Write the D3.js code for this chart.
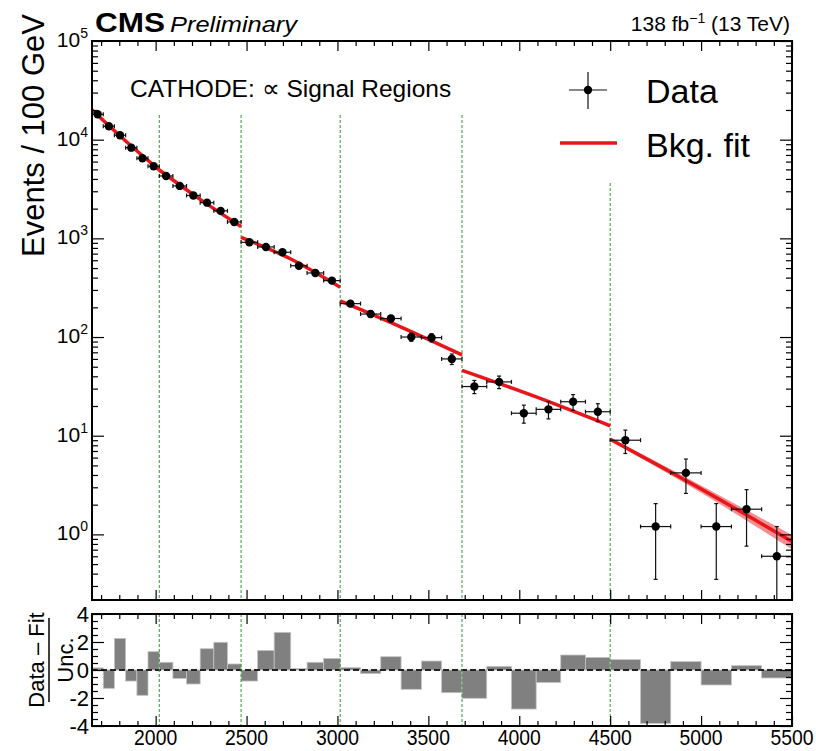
<!DOCTYPE html>
<html>
<head>
<meta charset="utf-8">
<script src="https://cdn.jsdelivr.net/npm/d3@7"></script>
<style>
  body { margin: 0; background: #fff; }
  svg { font-family: "Liberation Sans", Arial, Helvetica, sans-serif; }
</style>
</head>
<body>
<svg id="chart" width="816" height="751"></svg>
<script>
// dijet mass bin edges in GeV (six bins per signal region)
const binEdges = [1650, 1712, 1773, 1835, 1897, 1958, 2020,
                  2095, 2170, 2245, 2320, 2395, 2470,
                  2561, 2652, 2743, 2833, 2924, 3015,
                  3127, 3238, 3350, 3462, 3573, 3685,
                  3821, 3957, 4093, 4228, 4364, 4500,
                  4667, 4833, 5000, 5167, 5333, 5500];

// signal region boundaries (green dashed lines)
const regionEdges = [2020, 2470, 3015, 3685, 4500];

// data: events / 100 GeV
const dataVals = [18070, 13680, 11090, 8300, 6480, 5370,
                  4290, 3400, 2720, 2300, 1900, 1466,
                  912, 818, 723, 528, 446, 373,
                  218, 171, 154, 100, 98.6, 60,
                  31.5, 35.1, 16.9, 18.5, 22.1, 17.5,
                  9.0, 1.2, 4.2, 1.2, 1.8, 0.6];
const dataErr = [171, 149, 134, 116, 102, 93,
                 76, 67, 60, 55, 50, 44,
                 32, 30, 28, 24, 22, 20,
                 14, 12.4, 11.7, 9.5, 9.4, 7.3,
                 4.8, 5.1, 3.5, 3.7, 4.0, 3.6,
                 2.4, 0.85, 1.6, 0.85, 1.04, 0.6];

// (data - fit) / uncertainty
const pulls = [0.15, -1.31, 2.26, -0.79, -1.81, 1.31,
               0.55, -0.6, -1.0, 1.52, 1.98, 0.43,
               -0.79, 1.4, 2.69, 0.1, 0.55, 0.83,
               0.17, -0.26, 0.95, -1.38, 0.64, -1.62,
               -2.02, 0.26, -2.79, -0.9, 1.07, 0.9,
               0.74, -3.81, 0.6, -1.07, 0.31, -0.57];

// background fit per region: mass points, values and relative band half-width
const fitMass = [[1650, 1835, 2020], [2020, 2245, 2470], [2470, 2743, 3015],
                 [3015, 3350, 3685], [3685, 4093, 4500], [4500, 5000, 5500]];
const fitVals = [[20000, 9700, 4930], [4930, 2480, 1315], [1026, 618, 320],
                 [232, 126, 65.9], [45.9, 24.7, 12.6], [9.22, 2.89, 0.845]];
const fitBand = [[0.01, 0.01, 0.01], [0.01, 0.01, 0.015], [0.015, 0.015, 0.02],
                 [0.02, 0.02, 0.025], [0.02, 0.025, 0.035], [0.04, 0.085, 0.165]];

const xMajor = [2000, 2500, 3000, 3500, 4000, 4500, 5000, 5500];
const yDecades = [0, 1, 2, 3, 4, 5];
const pullTicks = [-4, -2, 0, 2, 4];

const svg = d3.select('#chart');
const M = {left: 92, right: 792, top: 41, bottom: 600};
const R = {top: 614, bottom: 726};
const red = '#e8161b';
const green = '#2f9a2f';

const x = d3.scaleLinear().domain([1650, 5500]).range([M.left, M.right]);
const y = d3.scaleLog().domain([Math.pow(10, -0.665), 1e5]).range([M.bottom, M.top]);
const yr = d3.scaleLinear().domain([-4, 4]).range([R.bottom, R.top]);

const xMinor = d3.range(1700, 5500, 100).filter(v => v % 500 !== 0);
const yMinor = [];
[-1, 0, 1, 2, 3, 4].forEach(e => {
  for (let k = 2; k <= 9; k++) {
    const v = k * Math.pow(10, e);
    if (v > y.domain()[0] && v < 1e5) yMinor.push(v);
  }
});
const pullMinor = d3.range(-3.5, 4, 0.5).filter(v => v % 2 !== 0);

const bins = d3.range(dataVals.length).map(i => ({
  lo: binEdges[i], hi: binEdges[i + 1], c: (binEdges[i] + binEdges[i + 1]) / 2,
  v: dataVals[i], e: dataErr[i], p: pulls[i]
}));

function noDomain(g) { g.select('.domain').remove(); }

// ---------- main panel ----------
const main = svg.append('g');

// green signal-region lines
main.selectAll('line.sr')
  .data(regionEdges)
  .join('line')
  .attr('x1', d => x(d)).attr('x2', d => x(d))
  .attr('y1', d => d >= 4500 ? 183 : 115).attr('y2', M.bottom)
  .attr('stroke', green).attr('stroke-width', 1)
  .attr('stroke-dasharray', '3,2');

// fit band and line
const segs = fitMass.map((ms, i) => ms.map((m, j) => ({m: m, v: fitVals[i][j], b: fitBand[i][j]})));
const band = d3.area()
  .x(d => x(d.m))
  .y0(d => y(d.v * (1 - d.b)))
  .y1(d => y(d.v * (1 + d.b)))
  .curve(d3.curveMonotoneX);
const fitLine = d3.line()
  .x(d => x(d.m))
  .y(d => y(d.v))
  .curve(d3.curveMonotoneX);

main.selectAll('path.band')
  .data(segs)
  .join('path')
  .attr('d', band)
  .attr('fill', '#f07276')
  .attr('opacity', 0.8);

main.selectAll('path.fit')
  .data(segs)
  .join('path')
  .attr('d', fitLine)
  .attr('fill', 'none')
  .attr('stroke', red)
  .attr('stroke-width', 3.5);

// data points with error bars
const pts = main.append('g').attr('stroke', '#111').attr('stroke-width', 1.2);
const yLow = d => y(Math.max(d.v - d.e, y.domain()[0]));
pts.selectAll('line.h').data(bins).join('line')
  .attr('x1', d => x(d.lo)).attr('x2', d => x(d.hi))
  .attr('y1', d => y(d.v)).attr('y2', d => y(d.v));
pts.selectAll('line.v').data(bins).join('line')
  .attr('x1', d => x(d.c)).attr('x2', d => x(d.c))
  .attr('y1', d => y(d.v + d.e)).attr('y2', yLow);
// end caps
pts.selectAll('line.cl').data(bins).join('line')
  .attr('x1', d => x(d.lo)).attr('x2', d => x(d.lo))
  .attr('y1', d => y(d.v) - 2).attr('y2', d => y(d.v) + 2);
pts.selectAll('line.cr').data(bins).join('line')
  .attr('x1', d => x(d.hi)).attr('x2', d => x(d.hi))
  .attr('y1', d => y(d.v) - 2).attr('y2', d => y(d.v) + 2);
pts.selectAll('line.ct').data(bins).join('line')
  .attr('x1', d => x(d.c) - 2).attr('x2', d => x(d.c) + 2)
  .attr('y1', d => y(d.v + d.e)).attr('y2', d => y(d.v + d.e));
pts.selectAll('line.cb').data(bins.filter(d => d.v - d.e > y.domain()[0])).join('line')
  .attr('x1', d => x(d.c) - 2).attr('x2', d => x(d.c) + 2)
  .attr('y1', yLow).attr('y2', yLow);
main.selectAll('circle.pt').data(bins).join('circle')
  .attr('cx', d => x(d.c)).attr('cy', d => y(d.v))
  .attr('r', 4.2).attr('fill', '#000');

// axes (ticks inside the frame, ROOT style)
main.append('g').attr('transform', `translate(0,${M.bottom})`)
  .call(d3.axisBottom(x).tickValues(xMajor).tickSize(-10).tickFormat('')).call(noDomain);
main.append('g').attr('transform', `translate(0,${M.bottom})`)
  .call(d3.axisBottom(x).tickValues(xMinor).tickSize(-5).tickFormat('')).call(noDomain);
main.append('g').attr('transform', `translate(0,${M.top})`)
  .call(d3.axisTop(x).tickValues(xMajor).tickSize(-10).tickFormat('')).call(noDomain);
main.append('g').attr('transform', `translate(0,${M.top})`)
  .call(d3.axisTop(x).tickValues(xMinor).tickSize(-5).tickFormat('')).call(noDomain);
const yMajorVals = yDecades.map(e => Math.pow(10, e));
main.append('g').attr('transform', `translate(${M.left},0)`)
  .call(d3.axisLeft(y).tickValues(yMajorVals).tickSize(-12).tickFormat('')).call(noDomain);
main.append('g').attr('transform', `translate(${M.left},0)`)
  .call(d3.axisLeft(y).tickValues(yMinor).tickSize(-6).tickFormat('')).call(noDomain);
main.append('g').attr('transform', `translate(${M.right},0)`)
  .call(d3.axisRight(y).tickValues(yMajorVals).tickSize(-12).tickFormat('')).call(noDomain);
main.append('g').attr('transform', `translate(${M.right},0)`)
  .call(d3.axisRight(y).tickValues(yMinor).tickSize(-6).tickFormat('')).call(noDomain);
main.selectAll('.tick line').attr('stroke', '#000').attr('stroke-width', 1.2);

// y tick labels 10^n
const yl = main.selectAll('text.ylab').data(yDecades).join('text')
  .attr('x', M.left - 4).attr('y', d => y(Math.pow(10, d)) + 6)
  .attr('text-anchor', 'end').attr('font-size', 21).attr('fill', '#000');
yl.append('tspan').text('10');
yl.append('tspan').attr('dy', -9).attr('font-size', 14).text(d => d);

main.append('rect')
  .attr('x', M.left).attr('y', M.top)
  .attr('width', M.right - M.left).attr('height', M.bottom - M.top)
  .attr('fill', 'none').attr('stroke', '#000').attr('stroke-width', 2);

// ---------- ratio panel ----------
const rat = svg.append('g');
rat.selectAll('rect.pull').data(bins).join('rect')
  .attr('x', d => x(d.lo)).attr('width', d => x(d.hi) - x(d.lo))
  .attr('y', d => Math.min(yr(0), yr(d.p)))
  .attr('height', d => Math.abs(yr(d.p) - yr(0)))
  .attr('fill', '#808080').attr('stroke', '#c4c4c4').attr('stroke-width', 0.8);
rat.append('line')
  .attr('x1', M.left).attr('x2', M.right)
  .attr('y1', yr(0)).attr('y2', yr(0))
  .attr('stroke', '#222').attr('stroke-width', 2.2).attr('stroke-dasharray', '6,3');
rat.selectAll('line.sr').data(regionEdges).join('line')
  .attr('x1', d => x(d)).attr('x2', d => x(d))
  .attr('y1', R.top).attr('y2', R.bottom)
  .attr('stroke', green).attr('stroke-width', 1)
  .attr('stroke-dasharray', '3,2');

rat.append('g').attr('transform', `translate(0,${R.bottom})`)
  .call(d3.axisBottom(x).tickValues(xMajor).tickSize(-10).tickFormat('')).call(noDomain);
rat.append('g').attr('transform', `translate(0,${R.bottom})`)
  .call(d3.axisBottom(x).tickValues(xMinor).tickSize(-5).tickFormat('')).call(noDomain);
rat.append('g').attr('transform', `translate(0,${R.top})`)
  .call(d3.axisTop(x).tickValues(xMajor).tickSize(-10).tickFormat('')).call(noDomain);
rat.append('g').attr('transform', `translate(0,${R.top})`)
  .call(d3.axisTop(x).tickValues(xMinor).tickSize(-5).tickFormat('')).call(noDomain);
rat.append('g').attr('transform', `translate(${M.left},0)`)
  .call(d3.axisLeft(yr).tickValues(pullTicks).tickSize(-12).tickFormat('')).call(noDomain);
rat.append('g').attr('transform', `translate(${M.left},0)`)
  .call(d3.axisLeft(yr).tickValues(pullMinor).tickSize(-6).tickFormat('')).call(noDomain);
rat.append('g').attr('transform', `translate(${M.right},0)`)
  .call(d3.axisRight(yr).tickValues(pullTicks).tickSize(-12).tickFormat('')).call(noDomain);
rat.append('g').attr('transform', `translate(${M.right},0)`)
  .call(d3.axisRight(yr).tickValues(pullMinor).tickSize(-6).tickFormat('')).call(noDomain);
rat.selectAll('.tick line').attr('stroke', '#000').attr('stroke-width', 1.2);

rat.selectAll('text.plab').data(pullTicks).join('text')
  .attr('x', M.left - 3).attr('y', d => yr(d) + 8)
  .attr('text-anchor', 'end').attr('font-size', 22)
  .text(d => d);

rat.selectAll('text.xlab').data(xMajor).join('text')
  .attr('transform', d => `translate(${x(d)},${R.bottom + 19}) scale(0.88,1)`)
  .attr('text-anchor', 'middle').attr('font-size', 22)
  .text(d => d);

rat.append('rect')
  .attr('x', M.left).attr('y', R.top)
  .attr('width', M.right - M.left).attr('height', R.bottom - R.top)
  .attr('fill', 'none').attr('stroke', '#000').attr('stroke-width', 2);

// ratio y title: (Data - Fit) / Unc.
const rt = rat.append('g').attr('transform', 'translate(49,660) rotate(-90)');
rt.append('text').attr('y', -5).attr('text-anchor', 'middle').attr('font-size', 22).text('Data \u2013 Fit');
rt.append('line').attr('x1', -42).attr('x2', 42).attr('stroke', '#000').attr('stroke-width', 1.5);
rt.append('text').attr('y', 24).attr('text-anchor', 'middle').attr('font-size', 22).text('Unc.');

// ---------- labels ----------
svg.append('text')
  .attr('transform', 'translate(44,14) rotate(-90)')
  .attr('text-anchor', 'end').attr('font-size', 31)
  .text('Events / 100 GeV');

svg.append('text').attr('x', 95).attr('y', 32)
  .attr('font-size', 27).attr('font-weight', 'bold')
  .attr('textLength', 70).attr('lengthAdjust', 'spacingAndGlyphs')
  .text('CMS');
svg.append('text').attr('x', 170).attr('y', 32)
  .attr('font-size', 22).attr('font-style', 'italic')
  .attr('textLength', 127).attr('lengthAdjust', 'spacingAndGlyphs')
  .text('Preliminary');

const lumi = svg.append('text').attr('x', 790).attr('y', 31)
  .attr('text-anchor', 'end').attr('font-size', 21);
lumi.append('tspan').text('138 fb');
lumi.append('tspan').attr('dy', -8).attr('font-size', 14).text('\u22121');
lumi.append('tspan').attr('dy', 8).text(' (13 TeV)');

svg.append('text').attr('x', 130).attr('y', 97)
  .attr('font-size', 24.5)
  .text('CATHODE: \u221D Signal Regions');

// ---------- legend ----------
const leg = svg.append('g');
leg.append('line').attr('x1', 569).attr('x2', 607).attr('y1', 90).attr('y2', 90)
  .attr('stroke', '#111').attr('stroke-width', 1.2);
leg.append('line').attr('x1', 588).attr('x2', 588).attr('y1', 72).attr('y2', 109)
  .attr('stroke', '#111').attr('stroke-width', 1.2);
leg.append('circle').attr('cx', 588).attr('cy', 90).attr('r', 4.2).attr('fill', '#000');
leg.append('line').attr('x1', 560).attr('x2', 617).attr('y1', 143).attr('y2', 143)
  .attr('stroke', red).attr('stroke-width', 3.5);
leg.append('text').attr('x', 646).attr('y', 103).attr('font-size', 34).text('Data');
leg.append('text').attr('x', 646).attr('y', 157).attr('font-size', 34).text('Bkg. fit');
</script>
</body>
</html>
